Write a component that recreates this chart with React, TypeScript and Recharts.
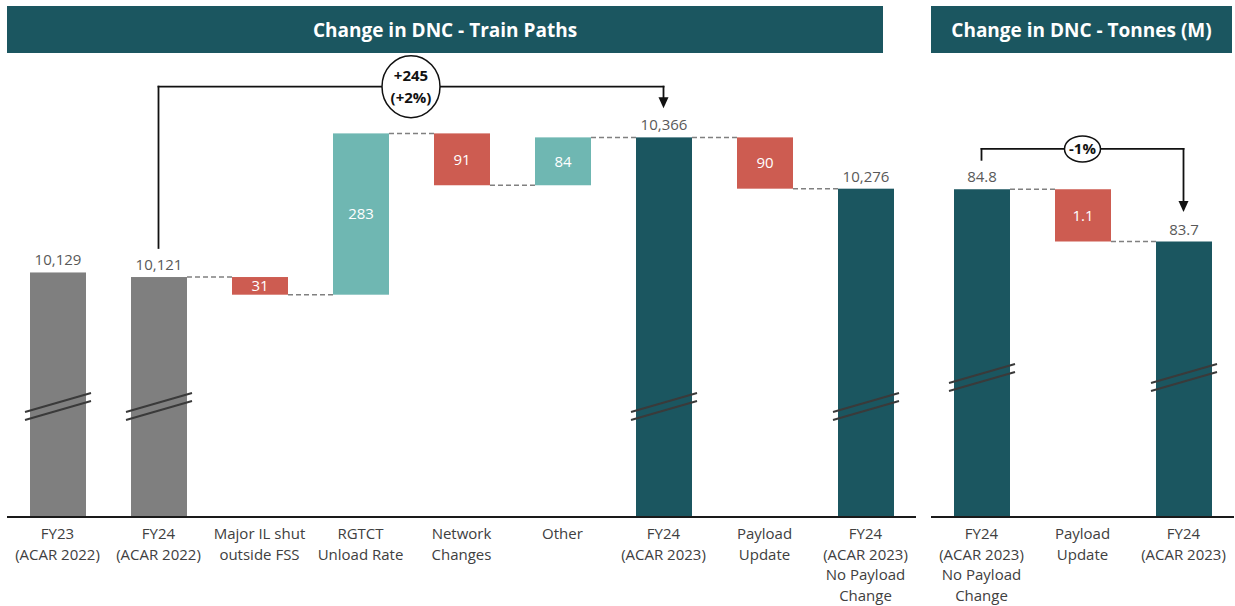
import { ComposedChart, Bar, XAxis, YAxis, ReferenceLine } from "recharts";

// Train paths bridge
const pathCategories = [
  "FY23\n(ACAR 2022)",
  "FY24\n(ACAR 2022)",
  "Major IL shut\noutside FSS",
  "RGTCT\nUnload Rate",
  "Network\nChanges",
  "Other",
  "FY24\n(ACAR 2023)",
  "Payload\nUpdate",
  "FY24\n(ACAR 2023)\nNo Payload\nChange",
];
const pathValues = [10129, 10121, -31, 283, -91, 84, 10366, -90, 10276];
const pathKinds = ["prior", "prior", "change", "change", "change", "change", "current", "change", "current"];
const pathLinks = [false, true, true, true, true, true, true, true, false];

// Tonnes bridge
const tonneCategories = ["FY24\n(ACAR 2023)\nNo Payload\nChange", "Payload\nUpdate", "FY24\n(ACAR 2023)"];
const tonneValues = [84.8, -1.1, 83.7];
const tonneKinds = ["current", "change", "current"];
const tonneLinks = [true, true, false];

const TEAL = "#1b5660";
const INK = "#111111";
const COLORS: Record<string, string> = {
  prior: "#7f7f7f",
  current: TEAL,
  up: "#6fb7b2",
  down: "#cd5c51",
};

type Row = {
  name: string;
  kind: string;
  value: number;
  range: [number, number];
  link: boolean;
};

function buildRows(cats: string[], vals: number[], kinds: string[], links: boolean[], floor: number): Row[] {
  let run = 0;
  return cats.map((name, i) => {
    const v = vals[i];
    let range: [number, number];
    if (kinds[i] === "change") {
      const end = run + v;
      range = [Math.min(run, end), Math.max(run, end)];
      run = end;
    } else {
      range = [floor, v];
      run = v;
    }
    return { name, kind: kinds[i], value: v, range, link: links[i] };
  });
}

const CategoryTick = (props: any) => {
  const { x, y, payload } = props;
  const lines = String(payload.value).split("\n");
  return (
    <text x={x} y={y} textAnchor="middle" fill="#404040" fontSize={15}>
      {lines.map((l, i) => (
        <tspan key={i} x={x} dy={i === 0 ? 22 : 20.5}>
          {l}
        </tspan>
      ))}
    </text>
  );
};

const makeShape = (band: number, breakLift: number, fmt: (v: number) => string) => (props: any) => {
  const { x, y, width, height, payload } = props;
  const top = Math.min(y, y + height);
  const h = Math.abs(height);
  const bottom = top + h;
  const isChange = payload.kind === "change";
  const fill = isChange ? (payload.value < 0 ? COLORS.down : COLORS.up) : COLORS[payload.kind];
  const endY = isChange && payload.value < 0 ? bottom : top;
  const cx = x + width / 2;
  return (
    <g>
      <rect x={x} y={top} width={width} height={h} fill={fill} />
      {payload.link && (
        <line
          x1={x + width}
          x2={x + band}
          y1={endY}
          y2={endY}
          stroke="#808080"
          strokeWidth={1.5}
          strokeDasharray="5 3"
        />
      )}
      {isChange ? (
        <text x={cx} y={top + h / 2} dy="0.35em" textAnchor="middle" fill="#ffffff" fontSize={15}>
          {fmt(Math.abs(payload.value))}
        </text>
      ) : (
        <>
          <text x={cx} y={top - 7} textAnchor="middle" fill="#595959" fontSize={15}>
            {fmt(payload.value)}
          </text>
          {[0, 8].map((d) => (
            <line
              key={d}
              x1={x - 5}
              y1={bottom - breakLift + d}
              x2={x + width + 5}
              y2={bottom - breakLift - 19 + d}
              stroke="#3a3a3a"
              strokeWidth={2}
            />
          ))}
        </>
      )}
    </g>
  );
};

const bubbleShape = (lines: string[], rx: number, ry: number) => (p: any) => {
  const { x1, y1, x2, y2 } = p;
  const cx = (x1 + x2) / 2;
  const cy = y1;
  const step = 22;
  const first = cy - ((lines.length - 1) * step) / 2;
  return (
    <g>
      <line x1={x1} y1={y1} x2={x2} y2={y2} stroke={INK} strokeWidth={1.8} strokeLinecap="square" />
      <ellipse cx={cx} cy={cy} rx={rx} ry={ry} fill="#ffffff" stroke={INK} strokeWidth={1.5} />
      {lines.map((l, i) => (
        <text key={i} x={cx} y={first + i * step} dy="0.35em" textAnchor="middle" fontSize={15} fontWeight={700} fill={INK}>
          {l}
        </text>
      ))}
    </g>
  );
};

const arrowShape = (p: any) => {
  const { x1, y1, x2, y2 } = p;
  return (
    <g>
      <line x1={x1} y1={y1} x2={x2} y2={y2 - 10} stroke={INK} strokeWidth={1.8} strokeLinecap="square" />
      <polygon points={`${x2 - 5},${y2 - 11} ${x2 + 5},${y2 - 11} ${x2},${y2}`} fill={INK} />
    </g>
  );
};

const plainShape = (p: any) => (
  <line x1={p.x1} y1={p.y1} x2={p.x2} y2={p.y2} stroke={INK} strokeWidth={1.8} strokeLinecap="square" />
);

type BridgeProps = {
  rows: Row[];
  width: number;
  domain: [number, number];
  breakLift: number;
  fmt: (v: number) => string;
  from: number;
  to: number;
  level: number;
  gap: number;
  bubble: string[];
  rx: number;
  ry: number;
};

function Bridge({ rows, width, domain, breakLift, fmt, from, to, level, gap, bubble, rx, ry }: BridgeProps) {
  const band = width / rows.length;
  const a = rows[from];
  const b = rows[to];
  return (
    <ComposedChart width={width} height={606} data={rows} margin={{ top: 61, right: 0, bottom: 0, left: 0 }}>
      <XAxis
        dataKey="name"
        interval={0}
        height={89}
        tickSize={0}
        tickMargin={0}
        tickLine={false}
        axisLine={{ stroke: "#1a1a1a", strokeWidth: 2 }}
        tick={(p: any) => <CategoryTick {...p} />}
      />
      <YAxis hide type="number" domain={domain} allowDataOverflow />
      <Bar dataKey="range" barSize={56} isAnimationActive={false} shape={makeShape(band, breakLift, fmt)} />
      <ReferenceLine
        segment={[
          { x: a.name, y: a.value + gap },
          { x: a.name, y: level },
        ]}
        shape={plainShape}
      />
      <ReferenceLine
        segment={[
          { x: a.name, y: level },
          { x: b.name, y: level },
        ]}
        shape={bubbleShape(bubble, rx, ry)}
      />
      <ReferenceLine
        segment={[
          { x: b.name, y: level },
          { x: b.name, y: b.value + gap },
        ]}
        shape={arrowShape}
      />
    </ComposedChart>
  );
}

const Header = ({ left, width, title }: { left: number; width: number; title: string }) => (
  <div
    style={{
      position: "absolute",
      left,
      top: 6,
      width,
      height: 47,
      background: TEAL,
      color: "#ffffff",
      display: "flex",
      alignItems: "center",
      justifyContent: "center",
      fontWeight: 700,
      fontSize: 19,
    }}
  >
    {title}
  </div>
);

export default function App() {
  const pathRows = buildRows(pathCategories, pathValues, pathKinds, pathLinks, 9700);
  const tonneRows = buildRows(tonneCategories, tonneValues, tonneKinds, tonneLinks, 77.9);

  const pathDelta = pathValues[6] - pathValues[1];
  const pathPct = Math.round((pathDelta / pathValues[1]) * 100);
  const tonnePct = Math.round(((tonneValues[2] - tonneValues[0]) / tonneValues[0]) * 100);

  return (
    <div
      style={{
        position: "absolute",
        left: 0,
        top: 0,
        width: 1235,
        height: 606,
        background: "#ffffff",
        fontFamily: "'Open Sans', sans-serif",
        overflow: "hidden",
      }}
    >
      <Header left={7} width={876} title="Change in DNC - Train Paths" />
      <Header left={931} width={301} title="Change in DNC - Tonnes (M)" />
      <div style={{ position: "absolute", left: 7, top: 0 }}>
        <Bridge
          rows={pathRows}
          width={909}
          domain={[9700, 10500]}
          breakLift={105}
          fmt={(v) => v.toLocaleString("en-US")}
          from={1}
          to={6}
          level={10455}
          gap={51}
          bubble={[`+${pathDelta}`, `(+${pathPct}%)`]}
          rx={29}
          ry={31}
        />
      </div>
      <div style={{ position: "absolute", left: 931, top: 0 }}>
        <Bridge
          rows={tonneRows}
          width={303}
          domain={[77.9, 87.5]}
          breakLift={134}
          fmt={(v) => v.toFixed(1)}
          from={0}
          to={2}
          level={85.65}
          gap={0.62}
          bubble={[`${tonnePct}%`]}
          rx={18}
          ry={13}
        />
      </div>
    </div>
  );
}
